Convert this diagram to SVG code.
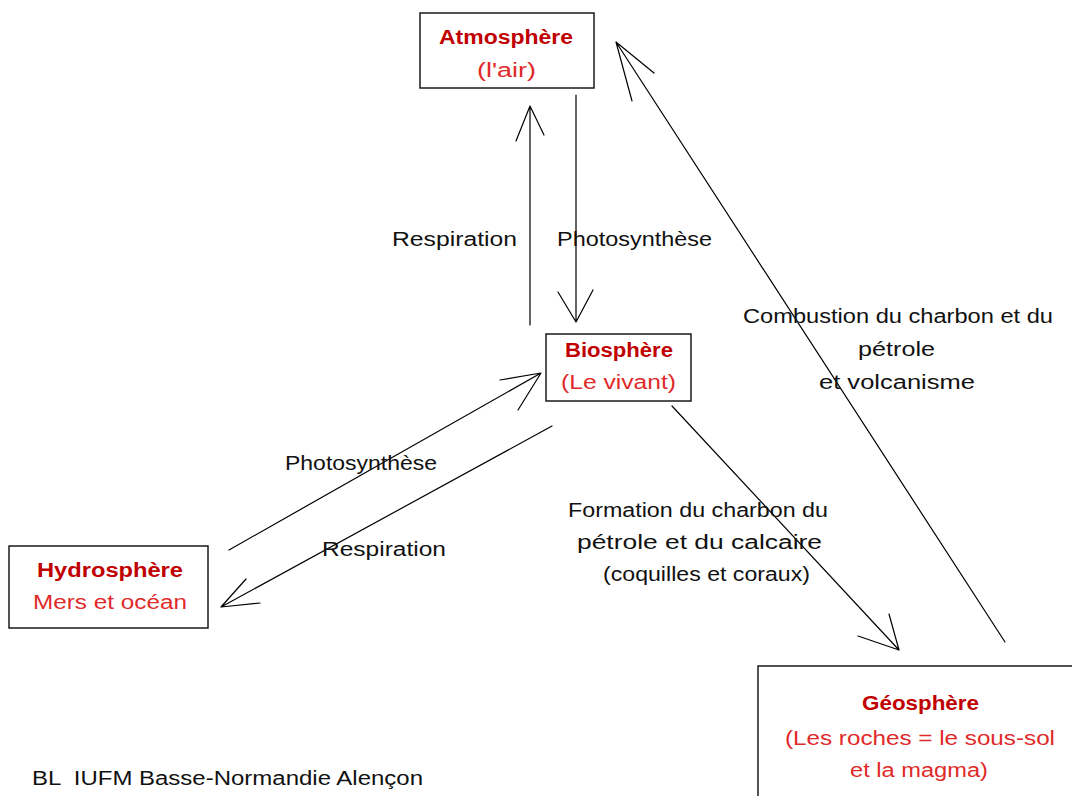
<svg xmlns="http://www.w3.org/2000/svg" width="1072" height="796" viewBox="0 0 1072 796">
<style>
.box{fill:#fff;stroke:#1a1a1a;stroke-width:1.5}
.t{font-family:"Liberation Sans",Arial,sans-serif;font-size:20px;fill:#111}
.h{font-family:"Liberation Sans",Arial,sans-serif;font-size:20px;font-weight:bold;fill:#c00000}
.s{font-family:"Liberation Sans",Arial,sans-serif;font-size:20px;fill:#e02a2a}
.ln{fill:none;stroke:#000;stroke-width:1.2;stroke-linecap:round;stroke-linejoin:round}
</style>
<rect width="1072" height="796" fill="#fff"/>
<g id="connectors">
  <g id="c-respiration-up">
    <path class="ln" d="M530,325 L530,106 M516,141 L530,106 L544,135"/>
  </g>
  <g id="c-photosynthese-down">
    <path class="ln" d="M576,95 L576,322 M558,292 L576,322 L593,290"/>
  </g>
  <g id="c-combustion">
    <path class="ln" d="M1005,642 L616,42 M632,101 L616,42 L654,73"/>
  </g>
  <g id="c-formation">
    <path class="ln" d="M672,406 L899,650 M858,636 L899,650 L889,614"/>
  </g>
  <g id="c-photosynthese-hydro">
    <path class="ln" d="M229,550 L541,373 M500,380 L541,373 L518,410"/>
  </g>
  <g id="c-respiration-hydro">
    <path class="ln" d="M552,426 L221,607 M246,579 L221,607 L260,603"/>
  </g>
  <text class="t" x="392" y="246" textLength="125" lengthAdjust="spacingAndGlyphs">Respiration</text>
  <text class="t" x="557" y="246" textLength="155" lengthAdjust="spacingAndGlyphs">Photosynthèse</text>
  <text class="t" x="743" y="323" textLength="310" lengthAdjust="spacingAndGlyphs">Combustion du charbon et du</text>
  <text class="t" x="858" y="356" textLength="77" lengthAdjust="spacingAndGlyphs">pétrole</text>
  <text class="t" x="819" y="389" textLength="156" lengthAdjust="spacingAndGlyphs">et volcanisme</text>
  <text class="t" x="285" y="470" textLength="152" lengthAdjust="spacingAndGlyphs">Photosynthèse</text>
  <text class="t" x="322" y="556" textLength="124" lengthAdjust="spacingAndGlyphs">Respiration</text>
  <text class="t" x="568" y="517" textLength="260" lengthAdjust="spacingAndGlyphs">Formation du charbon du</text>
  <text class="t" x="577" y="549" textLength="245" lengthAdjust="spacingAndGlyphs">pétrole et du calcaire</text>
  <text class="t" x="603" y="581" textLength="207" lengthAdjust="spacingAndGlyphs">(coquilles et coraux)</text>
</g>
<g id="atmosphere">
  <rect class="box" x="420" y="13" width="174" height="75"/>
  <text class="h" x="439" y="44" textLength="134" lengthAdjust="spacingAndGlyphs">Atmosphère</text>
  <text class="s" x="477" y="77" textLength="59" lengthAdjust="spacingAndGlyphs">(l'air)</text>
</g>
<g id="biosphere">
  <rect class="box" x="546" y="334" width="145" height="67"/>
  <text class="h" x="565" y="357" textLength="108" lengthAdjust="spacingAndGlyphs">Biosphère</text>
  <text class="s" x="561" y="389" textLength="115" lengthAdjust="spacingAndGlyphs">(Le vivant)</text>
</g>
<g id="hydrosphere">
  <rect class="box" x="9" y="546" width="199" height="82"/>
  <text class="h" x="37" y="577" textLength="146" lengthAdjust="spacingAndGlyphs">Hydrosphère</text>
  <text class="s" x="33" y="609" textLength="154" lengthAdjust="spacingAndGlyphs">Mers et océan</text>
</g>
<g id="geosphere">
  <rect class="box" x="758" y="666" width="330" height="150"/>
  <text class="h" x="862" y="710" textLength="117" lengthAdjust="spacingAndGlyphs">Géosphère</text>
  <text class="s" x="785" y="745" textLength="270" lengthAdjust="spacingAndGlyphs">(Les roches = le sous-sol</text>
  <text class="s" x="850" y="777" textLength="138" lengthAdjust="spacingAndGlyphs">et la magma)</text>
</g>
<g id="credit">
  <text class="t" x="32" y="785" textLength="391" lengthAdjust="spacingAndGlyphs" xml:space="preserve">BL  IUFM Basse-Normandie Alençon</text>
</g>
</svg>
